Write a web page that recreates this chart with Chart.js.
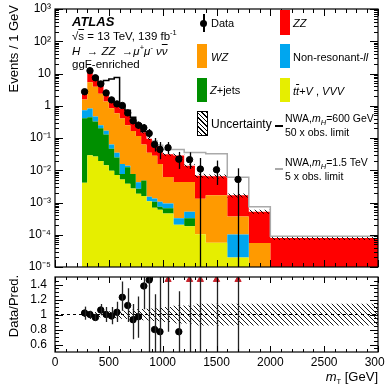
<!DOCTYPE html>
<html>
<head>
<meta charset="utf-8">
<title>mT ggF-enriched</title>
<script src="https://cdn.jsdelivr.net/npm/chart.js@4.4.1/dist/chart.umd.min.js"></script>
<style>
  html, body { margin: 0; padding: 0; background: #fff; }
  #wrap { position: relative; width: 385px; height: 386px; overflow: hidden;
          font-family: "Liberation Sans", Arial, sans-serif; color: #000; }
  canvas { position: absolute; left: 0; }
  #topCanvas { top: 0; }
  #ratioCanvas { top: 272px; }
  .t { position: absolute; white-space: nowrap; font-size: 11px; line-height: 13px; }
  .nwa { font-size: 10.5px; }
  .vt { position: absolute; white-space: nowrap; font-size: 13px; line-height: 14px;
        writing-mode: vertical-rl; transform: rotate(180deg); }
  .box { position: absolute; width: 10px; height: 24px; }
  sup { font-size: 7.5px; vertical-align: 5px; line-height: 0; }
  sub { font-size: 7.5px; vertical-align: -3px; line-height: 0; }
  .ov { text-decoration: overline; }
</style>
</head>
<body>
<div id="wrap">
  <canvas id="topCanvas" width="385" height="272"></canvas>
  <canvas id="ratioCanvas" width="385" height="114"></canvas>

  <div class="vt" style="left:7px;top:5px;">Events / 1 GeV</div>
  <div class="vt" style="left:7px;top:275px;">Data/Pred.</div>
  <div class="t" style="right:7px;top:370px;font-size:13px;"><i>m</i><sub>T</sub> [GeV]</div>

  <div class="t" style="left:72px;top:15px;font-size:13px;font-weight:bold;font-style:italic;">ATLAS</div>
  <div class="t" style="left:72px;top:30px;font-size:11.5px;">√<span class="ov">s</span> = 13 TeV, 139 fb<sup>-1</sup></div>
  <div class="t" style="left:72px;top:45px;font-size:11.5px;"><i>H</i> &nbsp;→ <i>ZZ</i> &nbsp;→<i>μ</i><sup>+</sup><i>μ</i><sup>-</sup> <i>ν</i><i class="ov">ν</i></div>
  <div class="t" style="left:72px;top:58px;font-size:11.5px;">ggF-enriched</div>

  <!-- legend -->
  <div style="position:absolute;left:203px;top:14px;width:1.5px;height:18px;background:#000;"></div>
  <div style="position:absolute;left:200px;top:20px;width:7px;height:7px;border-radius:50%;background:#000;"></div>
  <div class="t" style="left:211px;top:17px;">Data</div>

  <div class="box" style="left:280px;top:10px;height:25px;background:#ff0000;"></div>
  <div class="t" style="left:293px;top:17px;"><i>ZZ</i></div>

  <div class="box" style="left:197px;top:44px;background:#ff9a00;"></div>
  <div class="t" style="left:211px;top:51px;"><i>WZ</i></div>

  <div class="box" style="left:280px;top:44px;background:#00a6ef;"></div>
  <div class="t" style="left:293px;top:51px;">Non-resonant-<i>ll</i></div>

  <div class="box" style="left:197px;top:78px;background:#008f00;"></div>
  <div class="t" style="left:210px;top:84px;"><i>Z</i>+jets</div>

  <div class="box" style="left:280px;top:78px;background:#e6ee00;"></div>
  <div class="t" style="left:293px;top:85px;"><i>t</i><i class="ov">t</i>+<i>V</i> , <i>VVV</i></div>

  <div style="position:absolute;left:197px;top:111px;width:9px;height:23px;border:1px solid #000;
       background:repeating-linear-gradient(45deg,#fff 0,#fff 2.2px,#000 2.2px,#000 3.2px);"></div>
  <div class="t" style="left:211px;top:118px;font-size:12px;">Uncertainty</div>

  <div style="position:absolute;left:275px;top:125px;width:8px;height:1.5px;background:#000;"></div>
  <div class="t nwa" style="left:285px;top:112px;">NWA,<i>m<sub>H</sub></i>=600 GeV</div>
  <div class="t nwa" style="left:285px;top:126px;">50 x obs. limit</div>

  <div style="position:absolute;left:275px;top:168px;width:8px;height:1.5px;background:#aaa;"></div>
  <div class="t nwa" style="left:285px;top:156px;">NWA,<i>m<sub>H</sub></i>=1.5 TeV</div>
  <div class="t nwa" style="left:285px;top:170px;">5 x obs. limit</div>
</div>

<script>
// bin edges in m_T [GeV]
const binEdges = [250, 300, 350, 400, 450, 500, 550, 600, 650, 700, 750, 800, 850, 900, 950,
                  1000, 1100, 1200, 1300, 1400, 1600, 1800, 2000, 3000];

// events / GeV per process, stacked bottom -> top
const ttvVVV = [0.0041, 0.029, 0.0265, 0.0195, 0.0144, 0.0097, 0.0071, 0.0052, 0.0038, 0.0027, 0.00188, 0.0016,
                0.0011, 0.00069, 0.0006, 0.00046, 0.000205, 0.000182, 0.000104, 0.0000562, 0.0000196, 0.000002, 0.000001];
const zJets = [0.406, 0.41, 0.30, 0.18, 0.113, 0.037, 0.0176, 0.0025, 0.0085, 0.005, 0.0008, 0.0032,
               0, 0.00036, 0.00014, 0.0002, 0, 0.000143, 0, 0, 0, 0, 0];
const nonResLL = [0.31, 0.39, 0.14, 0.05, 0.039, 0.016, 0.0103, 0.0078, 0.0015, 0, 0.0016, 0,
                  0.0004, 0.00027, 0.00031, 0.00027, 0.00012, 0.000195, 0, 0, 0.0000814, 0.000002, 0.000001];
const wz = [0.84, 4.57, 3.41, 2.12, 1.18, 0.77, 0.55, 0.39, 0.236, 0.158, 0.112, 0.058,
            0.0335, 0.0266, 0.0145, 0.0052, 0.004, 0.0038, 0.0012, 0.00162, 0.000265, 0.0000512, 0.000004];
const zz = [1.11, 6.8, 3.78, 2.1, 1.14, 0.73, 0.52, 0.42, 0.29, 0.198, 0.141, 0.087,
            0.060, 0.052, 0.0407, 0.0251, 0.0241, 0.0095, 0.0055, 0.0048, 0.0013, 0.000465, 0.000074];

// signal contributions drawn on top of the background (null = not drawn)
const nwa600x50 = [null, null, 0.02, 0.32, 3.54, 5.23, 6.45, 0.156, 0.18, 0.076, 0.02, 0.01,
                   null, null, null, null, null, null, null, null, null, null, null];
const nwa1500x5 = [null, null, null, null, null, null, null, null, null, null, null, null,
                   null, 0.001, 0.003, 0.0131, 0.0159, 0.0214, 0.0284, 0.0262, 0.0044, 0.00022, 0.00001];

// data (events / GeV) and error bar ends
const dataVals = [2.72, 12.2, 7.36, 4.74, 2.5, 1.52, 1.14, 1.02, 0.6, 0.34, 0.25, 0.207,
                  0.139, 0.063, 0.044, 0.05, 0.022, 0.0213, 0.0109, 0.0104, 0.0052, null, null];
const dataLo = [2.5, 11.6, 7.0, 4.45, 2.28, 1.35, 0.99, 0.88, 0.5, 0.27, 0.19, 0.155,
                0.1, 0.038, 0.022, 0.032, 0.011, 0.011, 0.000001, 0.0035, 0.000001, null, null];
const dataHi = [2.95, 12.8, 7.75, 5.05, 2.72, 1.7, 1.3, 1.17, 0.71, 0.42, 0.32, 0.27,
                0.19, 0.1, 0.075, 0.075, 0.037, 0.036, 0.024, 0.02, 0.0115, null, null];

// relative uncertainty on the prediction
const relUnc = [0.03, 0.03, 0.035, 0.035, 0.04, 0.045, 0.05, 0.055, 0.06, 0.065, 0.07, 0.075,
                0.08, 0.085, 0.09, 0.1, 0.12, 0.12, 0.145, 0.145, 0.145, 0.145, 0.145];

// ratio panel
const ratioVals = [1.02, 1.0, 0.96, 1.06, 1.0, 0.98, 1.03, 1.23, 1.12, 0.93, 0.97, 1.38,
                   1.46, 0.80, 0.77, 1.6, 0.77, 1.54, 1.59, 1.6, 3.1, null, null];
const ratioLo = [0.93, 0.94, 0.92, 0.99, 0.90, 0.87, 0.90, 1.05, 0.90, 0.67, 0.69, 1.07,
                 0.4, 0.4, 0.4, 0.77, 0.4, 0.4, 0.4, 0.4, 0.4, null, null];
const ratioHi = [1.105, 1.05, 1.01, 1.14, 1.10, 1.10, 1.17, 1.44, 1.35, 1.14, 1.24, 1.6,
                 1.6, 1.27, 1.6, 1.6, 1.31, 1.6, 1.6, 1.6, 1.6, null, null];

const logTicks = [1e-5, 1e-4, 1e-3, 1e-2, 1e-1, 1, 10, 100, 1000];
const ratioTicks = [0.6, 0.8, 1, 1.2, 1.4];
const massTicks = [0, 500, 1000, 1500, 2000, 2500, 3000];
const ratioMin = 0.5, ratioMax = 1.5;

const layerColors = ['#e6ee00', '#008f00', '#00a6ef', '#ff9a00', '#ff0000'];

Chart.defaults.font.family = '"Liberation Sans", Arial, sans-serif';
Chart.defaults.font.size = 12;
Chart.defaults.color = '#000';

const binCenters = binEdges.slice(0, -1).map((e, i) => (e + binEdges[i + 1]) / 2);

// histogram as a stepped line: one point per left edge, plus the closing edge
function stepPoints(vals) {
  const pts = [];
  let last = -1;
  vals.forEach((v, i) => {
    if (v == null) return;
    pts.push({x: binEdges[i], y: v});
    last = i;
  });
  if (last >= 0) pts.push({x: binEdges[last + 1], y: vals[last]});
  return pts;
}

function hatchPattern() {
  const c = document.createElement('canvas');
  c.width = 5; c.height = 5;
  const g = c.getContext('2d');
  g.strokeStyle = '#000';
  g.lineWidth = 0.9;
  g.beginPath();
  g.moveTo(0, 0); g.lineTo(5, 5);
  g.moveTo(-1, 4); g.lineTo(1, 6);
  g.moveTo(4, -1); g.lineTo(6, 1);
  g.stroke();
  return g.createPattern(c, 'repeat');
}

const supDigits = {'-': '\u207B', '0': '\u2070', '1': '\u00B9', '2': '\u00B2', '3': '\u00B3',
                   '4': '\u2074', '5': '\u2075', '6': '\u2076', '7': '\u2077', '8': '\u2078', '9': '\u2079'};
function logLabel(v) {
  const e = Math.round(Math.log10(v));
  if (e === 0) return '1';
  if (e === 1) return '10';
  return '10' + String(e).split('').map(ch => supDigits[ch]).join('');
}

function errorBars(lo, hi, color, width) {
  return {
    id: 'errorBars',
    afterDatasetsDraw(chart) {
      const {ctx, chartArea: a, scales: {x, y}} = chart;
      ctx.save();
      ctx.beginPath();
      ctx.rect(a.left, a.top, a.width, a.height);
      ctx.clip();
      ctx.strokeStyle = color;
      ctx.lineWidth = width;
      binCenters.forEach((xv, i) => {
        if (lo[i] == null) return;
        const px = Math.round(x.getPixelForValue(xv)) + 0.5;
        ctx.beginPath();
        ctx.moveTo(px, y.getPixelForValue(lo[i]));
        ctx.lineTo(px, y.getPixelForValue(hi[i]));
        ctx.stroke();
      });
      ctx.restore();
    }
  };
}

function framePlugin(yMajor, yMinor, xMajorLen, xMinorLen) {
  return {
    id: 'frame',
    afterDraw(chart) {
      const {ctx, chartArea: a, scales: {x, y}} = chart;
      ctx.save();
      ctx.strokeStyle = '#000';
      ctx.lineWidth = 1;
      ctx.beginPath();
      const tick = (px, py, dx, dy) => { ctx.moveTo(px, py); ctx.lineTo(px + dx, py + dy); };
      for (let v = 0; v <= 3000; v += 100) {
        const px = Math.round(x.getPixelForValue(v)) + 0.5;
        const len = v % 500 === 0 ? xMajorLen : xMinorLen;
        tick(px, a.bottom, 0, -len);
        tick(px, a.top, 0, len);
      }
      yMajor.forEach(v => {
        const py = Math.round(y.getPixelForValue(v)) + 0.5;
        tick(a.left, py, 8, 0);
        tick(a.right, py, -8, 0);
      });
      yMinor.forEach(v => {
        const py = Math.round(y.getPixelForValue(v)) + 0.5;
        tick(a.left, py, 4, 0);
        tick(a.right, py, -4, 0);
      });
      ctx.stroke();
      ctx.lineWidth = 1.2;
      ctx.strokeRect(a.left, a.top, a.width, a.height);
      ctx.restore();
    }
  };
}

const hatch = hatchPattern();

// ---- main panel ----
let running = ttvVVV.map(() => 0);
const cumulative = [ttvVVV, zJets, nonResLL, wz, zz].map(arr => (running = running.map((s, i) => s + arr[i])));
const total = cumulative[cumulative.length - 1];

const stackSets = cumulative.map((c, k) => ({
  data: stepPoints(c),
  stepped: true,
  fill: k === 0 ? 'start' : '-1',
  backgroundColor: layerColors[k],
  borderColor: 'rgba(0,0,0,0)',
  borderWidth: 0,
  pointRadius: 0,
  order: 10
}));

const uncLow = total.map((t, i) => t * (1 - relUnc[i]));
const uncHigh = total.map((t, i) => t * (1 + relUnc[i]));
const sig600 = nwa600x50.map((s, i) => s == null ? null : total[i] + s);
const sig1500 = nwa1500x5.map((s, i) => s == null ? null : total[i] + s);

const logMinor = [];
for (let n = -5; n < 3; n++) {
  for (let k = 2; k <= 9; k++) logMinor.push(k * Math.pow(10, n));
}

new Chart(document.getElementById('topCanvas'), {
  type: 'line',
  data: {
    datasets: [
      ...stackSets,
      {data: stepPoints(uncLow), stepped: true, fill: false, borderColor: 'rgba(0,0,0,0)',
       borderWidth: 0, pointRadius: 0, order: 3},
      {data: stepPoints(uncHigh), stepped: true, fill: '-1', backgroundColor: hatch,
       borderColor: 'rgba(0,0,0,0)', borderWidth: 0, pointRadius: 0, order: 3},
      {data: stepPoints(sig600), stepped: true, fill: false, borderColor: '#000',
       borderWidth: 1.5, pointRadius: 0, order: 2},
      {data: stepPoints(sig1500), stepped: true, fill: false, borderColor: '#aaaaaa',
       borderWidth: 1.5, pointRadius: 0, order: 2},
      {data: binCenters.map((x, i) => ({x, y: dataVals[i]})), showLine: false,
       pointRadius: 3.2, pointBackgroundColor: '#000', pointBorderColor: '#000', order: 0}
    ]
  },
  options: {
    animation: false,
    responsive: false,
    events: [],
    layout: {padding: {top: 9, bottom: 1, left: 0, right: 7}},
    plugins: {legend: {display: false}, tooltip: {enabled: false}},
    scales: {
      x: {type: 'linear', min: 0, max: 3000, display: false},
      y: {
        type: 'logarithmic', min: 1e-5, max: 1e3,
        grid: {display: false, drawTicks: false},
        border: {display: false},
        afterBuildTicks: s => { s.ticks = logTicks.map(v => ({value: v})); },
        afterFit: s => { s.width = 55; s.paddingTop = 0; s.paddingBottom = 0; },
        ticks: {autoSkip: false, padding: 4, callback: v => logLabel(v)}
      }
    }
  },
  plugins: [errorBars(dataLo, dataHi, '#000', 1.3), framePlugin(logTicks, logMinor, 7, 4)]
});

// ---- ratio panel ----
const bandLow = relUnc.map(u => 1 - u);
const bandHigh = relUnc.map(u => 1 + u);
const ratioMinor = [];
for (let v = 0.55; v < 1.5; v += 0.05) {
  const r = Math.round(v * 100) / 100;
  if (!ratioTicks.includes(r)) ratioMinor.push(r);
}

new Chart(document.getElementById('ratioCanvas'), {
  type: 'line',
  data: {
    datasets: [
      {data: stepPoints(bandLow), stepped: true, fill: false, borderColor: 'rgba(0,0,0,0)',
       borderWidth: 0, pointRadius: 0, order: 3},
      {data: stepPoints(bandHigh), stepped: true, fill: '-1', backgroundColor: hatch,
       borderColor: 'rgba(0,0,0,0)', borderWidth: 0, pointRadius: 0, order: 3},
      {data: [{x: 0, y: 1}, {x: 3000, y: 1}], borderColor: '#000', borderWidth: 1,
       borderDash: [3, 3], pointRadius: 0, fill: false, order: 2},
      {data: binCenters.map((x, i) => ({x, y: ratioVals[i] != null && ratioVals[i] <= ratioMax ? ratioVals[i] : null})),
       showLine: false, pointRadius: 3.2, pointBackgroundColor: '#000', pointBorderColor: '#000', order: 0},
      {data: binCenters.map((x, i) => ({x, y: ratioVals[i] != null && ratioVals[i] > ratioMax ? ratioMax - 0.035 : null})),
       showLine: false, pointStyle: 'triangle', pointRadius: 3.6,
       pointBackgroundColor: '#c8202a', pointBorderColor: '#c8202a', order: 0}
    ]
  },
  options: {
    animation: false,
    responsive: false,
    events: [],
    layout: {padding: {top: 4, bottom: 0, left: 0, right: 7}},
    plugins: {legend: {display: false}, tooltip: {enabled: false}},
    scales: {
      x: {
        type: 'linear', min: 0, max: 3000,
        grid: {display: false, drawTicks: false},
        border: {display: false},
        afterBuildTicks: s => { s.ticks = massTicks.map(v => ({value: v})); },
        afterFit: s => { s.height = 34; s.paddingLeft = 0; s.paddingRight = 0; },
        ticks: {autoSkip: false, maxRotation: 0, padding: 3, callback: v => String(v)}
      },
      y: {
        type: 'linear', min: ratioMin, max: ratioMax,
        grid: {display: false, drawTicks: false},
        border: {display: false},
        afterBuildTicks: s => { s.ticks = ratioTicks.map(v => ({value: v})); },
        afterFit: s => { s.width = 55; s.paddingTop = 0; s.paddingBottom = 0; },
        ticks: {autoSkip: false, padding: 8, callback: v => String(v)}
      }
    }
  },
  plugins: [errorBars(ratioLo, ratioHi, '#222', 1.3), framePlugin(ratioTicks, ratioMinor, 6, 3)]
});
</script>
</body>
</html>
